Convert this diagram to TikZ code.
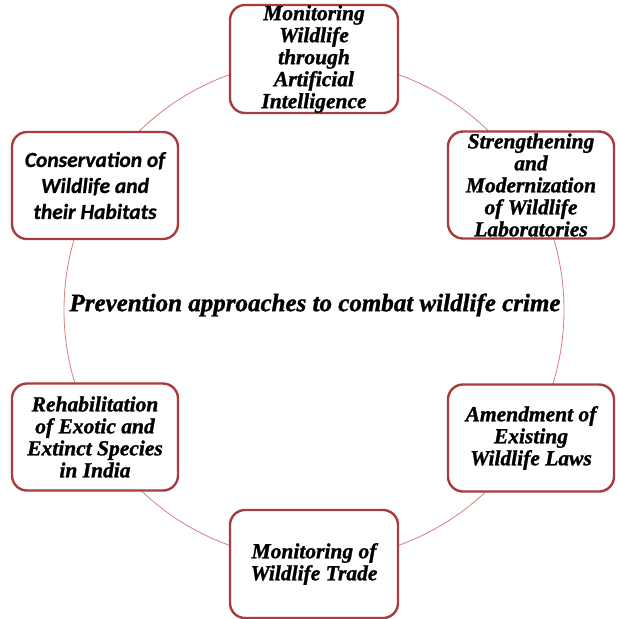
\documentclass[tikz,border=0pt]{standalone}
\usepackage{fontspec}
\setmainfont{Liberation Serif}
\newfontfamily\heavyserif{Liberation Serif}[FakeBold=1.2]
\newfontfamily\calib{Carlito}[FakeBold=0.8]
\definecolor{boxred}{RGB}{168,60,60}
\definecolor{ringred}{RGB}{215,125,125}
\begin{document}
\begin{tikzpicture}[x=1pt,y=1pt,
  box/.style={draw=boxred, line width=2.4pt, rounded corners=15pt, fill=white,
    minimum width=166pt, minimum height=107pt, align=center, inner sep=0pt,
    font=\heavyserif\fontsize{21.5}{22}\selectfont\bfseries\itshape},
  ring/.style={draw=ringred, line width=0.8pt}
]
\useasboundingbox (0,0) rectangle (617,-619);
\coordinate (c) at (314,-310);
\draw[ring] (c) circle (250);
\node[box, minimum width=168pt, minimum height=108pt] (top) at (314,-59)
  {Monitoring\\Wildlife\\through\\Artificial\\Intelligence};
\node[box] (rt) at (531,-185)
  {Strengthening\\and\\Modernization\\of Wildlife\\Laboratories};
\node[box] (rb) at (531,-438)
  {Amendment of\\Existing\\Wildlife Laws};
\node[box, minimum width=168pt, minimum height=108pt] (bot) at (314,-564)
  {Monitoring of\\Wildlife Trade};
\node[box] (lb) at (95,-437)
  {Rehabilitation\\of Exotic and\\Extinct Species\\in India};
\node[box, font=\calib\fontsize{21.5}{26}\selectfont\bfseries\itshape] (lt) at (95,-185.5)
  {Conservation of\\Wildlife and\\their Habitats};
\node[font=\heavyserif\fontsize{25}{28}\selectfont\bfseries\itshape] (title) at (315,-305)
  {Prevention approaches to combat wildlife crime};
\end{tikzpicture}
\end{document}
